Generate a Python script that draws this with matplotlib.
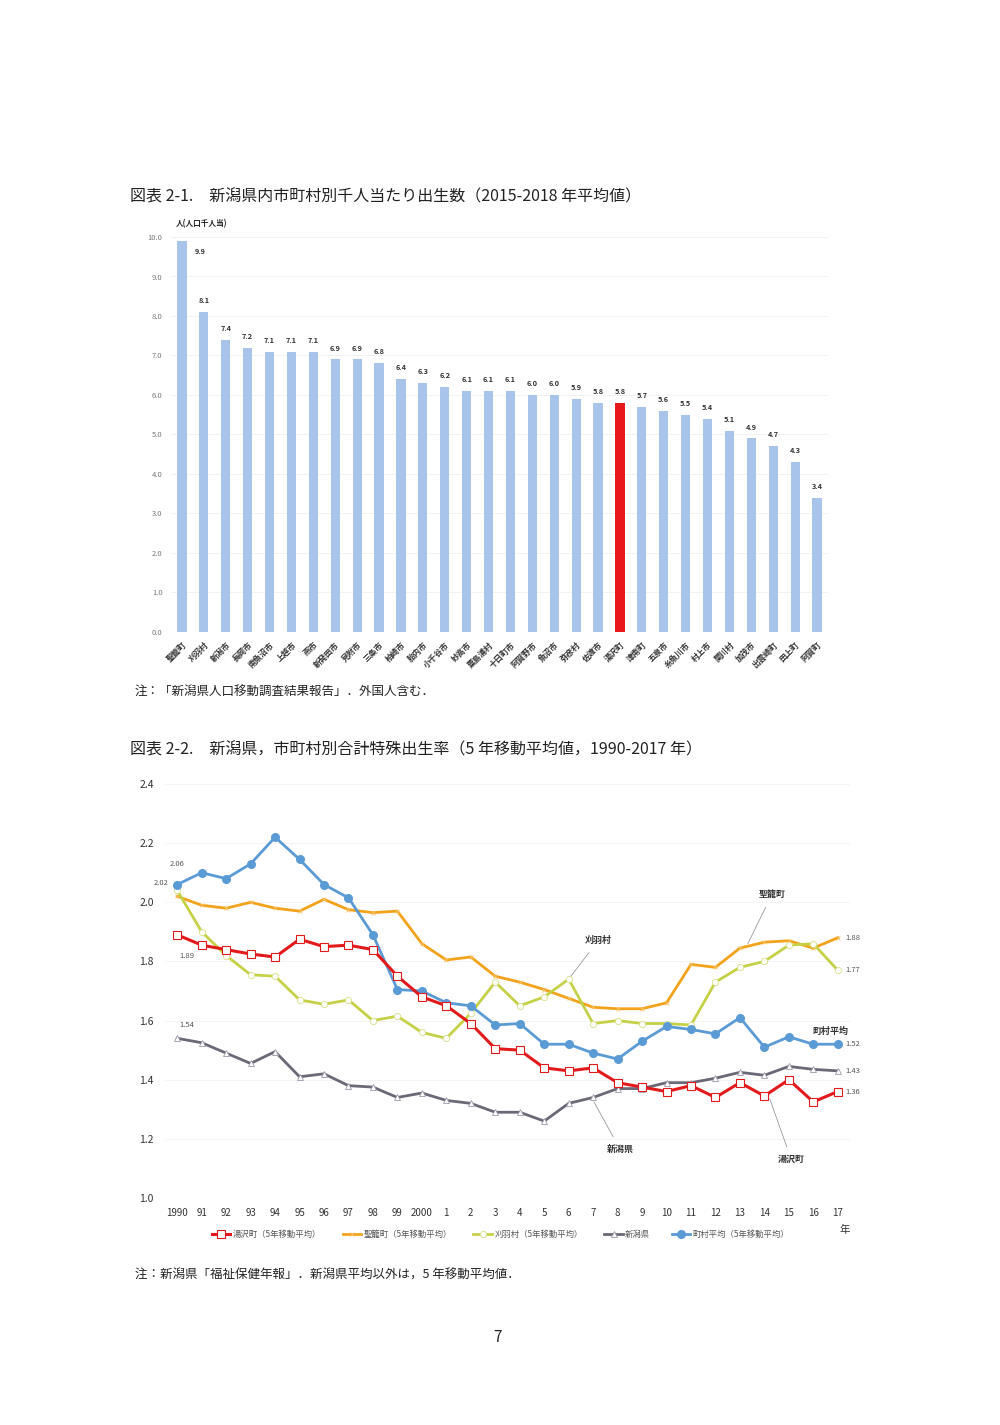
import matplotlib
matplotlib.use("Agg")
import matplotlib.pyplot as plt
import numpy as np

plt.rcParams['font.family'] = ['Noto Sans CJK JP', 'DejaVu Sans']

# ---------------- Data: chart 2-1 ----------------
municipalities = ["聖籠町", "刈羽村", "新潟市", "長岡市", "南魚沼市", "上越市", "燕市", "新発田市",
                  "見附市", "三条市", "柏崎市", "胎内市", "小千谷市", "妙高市", "粟島浦村", "十日町市",
                  "阿賀野市", "魚沼市", "弥彦村", "佐渡市", "湯沢町", "津南町", "五泉市", "糸魚川市",
                  "村上市", "関川村", "加茂市", "出雲崎町", "田上町", "阿賀町"]
births_per_1000 = [9.9, 8.1, 7.4, 7.2, 7.1, 7.1, 7.1, 6.9, 6.9, 6.8, 6.4, 6.3, 6.2, 6.1, 6.1,
                   6.1, 6.0, 6.0, 5.9, 5.8, 5.8, 5.7, 5.6, 5.5, 5.4, 5.1, 4.9, 4.7, 4.3, 3.4]
highlight = "湯沢町"

# ---------------- Data: chart 2-2 ----------------
year_labels = ["1990", "91", "92", "93", "94", "95", "96", "97", "98", "99", "2000",
               "1", "2", "3", "4", "5", "6", "7", "8", "9", "10", "11", "12", "13", "14", "15", "16", "17"]
yuzawa = [1.89, 1.855, 1.84, 1.825, 1.815, 1.875, 1.85, 1.855, 1.84, 1.75,
          1.68, 1.65, 1.59, 1.505, 1.50, 1.44, 1.43, 1.44, 1.39, 1.375,
          1.36, 1.38, 1.34, 1.39, 1.345, 1.40, 1.325, 1.36]
seiro = [2.02, 1.99, 1.98, 2.00, 1.98, 1.97, 2.01, 1.975, 1.965, 1.97,
         1.86, 1.805, 1.815, 1.75, 1.73, 1.705, 1.675, 1.645, 1.64, 1.64,
         1.66, 1.79, 1.78, 1.845, 1.865, 1.87, 1.845, 1.88]
kariwa = [2.04, 1.90, 1.82, 1.755, 1.75, 1.67, 1.655, 1.67, 1.60, 1.615,
          1.56, 1.54, 1.625, 1.73, 1.65, 1.68, 1.74, 1.59, 1.60, 1.59,
          1.59, 1.585, 1.73, 1.78, 1.80, 1.855, 1.86, 1.77]
niigata = [1.54, 1.525, 1.49, 1.455, 1.495, 1.41, 1.42, 1.38, 1.375, 1.34,
           1.355, 1.33, 1.32, 1.29, 1.29, 1.26, 1.32, 1.34, 1.37, 1.37,
           1.39, 1.39, 1.405, 1.425, 1.415, 1.445, 1.435, 1.43]
town_avg = [2.06, 2.10, 2.08, 2.13, 2.22, 2.145, 2.06, 2.015, 1.89, 1.705,
            1.70, 1.66, 1.65, 1.585, 1.59, 1.52, 1.52, 1.49, 1.47, 1.53,
            1.58, 1.57, 1.555, 1.61, 1.51, 1.545, 1.52, 1.52]
series_names = ["湯沢町（5年移動平均）", "聖籠町（5年移動平均）", "刈羽村（5年移動平均）",
                "新潟県", "町村平均（5年移動平均）"]

fig = plt.figure(figsize=(10, 14.25), dpi=100)
W, H = 1000, 1425

def fx(px):
    return px / W

def fy(py):
    return 1 - py / H

# ---------------- Chart 2-1 ----------------
fig.text(fx(130), fy(197), "図表 2-1.　新潟県内市町村別千人当たり出生数（2015-2018 年平均値）",
         fontsize=11.5, va="center", ha="left", color="#222222")

ax1 = fig.add_axes([0.171, fy(632), 0.657, (632 - 237) / H])
x = np.arange(len(municipalities))
colors = ["#e8191a" if m == highlight else "#a9c4eb" for m in municipalities]
ax1.bar(x, births_per_1000, width=0.42, color=colors, zorder=2)
ax1.set_xlim(-0.5, len(municipalities) - 0.5)
ax1.set_ylim(0, 10)
ax1.set_yticks(np.arange(0, 10.1, 1.0))
ax1.set_yticklabels([f"{v:.1f}" for v in np.arange(0, 10.1, 1.0)], fontsize=5.5, color="#777777")
ax1.tick_params(axis="y", length=0, pad=6)
ax1.set_xticks(x)
ax1.set_xticklabels(municipalities, rotation=45, ha="right", rotation_mode="anchor",
                    fontsize=5.8, fontweight="bold", color="#333333")
ax1.tick_params(axis="x", length=0, pad=6)
ax1.grid(axis="y", color="#f0f0f0", linewidth=0.6, zorder=0)
for s in ax1.spines.values():
    s.set_visible(False)
for i, v in enumerate(births_per_1000):
    if i == 0:
        ax1.text(i + 0.85, v - 0.35, f"{v:.1f}", ha="center", va="bottom",
                 fontsize=5.3, fontweight="bold", color="#333333")
    else:
        ax1.text(i, v + 0.2, f"{v:.1f}", ha="center", va="bottom",
                 fontsize=5.3, fontweight="bold", color="#333333")
fig.text(fx(176), fy(224), "人(人口千人当)", fontsize=5.5, fontweight="bold",
         va="center", ha="left", color="#222222")

fig.text(fx(135), fy(692), "注：「新潟県人口移動調査結果報告」．外国人含む．",
         fontsize=9, va="center", ha="left", color="#222222")

# ---------------- Chart 2-2 ----------------
fig.text(fx(130), fy(750), "図表 2-2.　新潟県，市町村別合計特殊出生率（5 年移動平均値，1990-2017 年）",
         fontsize=11.5, va="center", ha="left", color="#222222")

ax2 = fig.add_axes([0.165, fy(1198), 0.685, (1198 - 784) / H])
xi = np.arange(len(year_labels))
ax2.plot(xi, yuzawa, color="#e31a1c", lw=2.2, marker="s", ms=6, mfc="white",
         mec="#e31a1c", mew=0.8, label=series_names[0], zorder=5)
ax2.plot(xi, seiro, color="#f2a31b", lw=2.0, marker="x", ms=2.5, mec="#f7c46a",
         mew=0.6, label=series_names[1], zorder=3)
ax2.plot(xi, kariwa, color="#c5d147", lw=2.0, marker="o", ms=4.5, mfc="white",
         mec="#d8df86", mew=0.6, label=series_names[2], zorder=4)
ax2.plot(xi, niigata, color="#6b6878", lw=2.0, marker="^", ms=5, mfc="white",
         mec="#9c9aa8", mew=0.6, label=series_names[3], zorder=4)
ax2.plot(xi, town_avg, color="#5b9bd5", lw=2.0, marker="o", ms=5.5, mfc="#5b9bd5",
         mec="#5b9bd5", label=series_names[4], zorder=4)
ax2.set_xlim(-0.5, len(year_labels) - 0.5)
ax2.set_ylim(1.0, 2.4)
yt = np.arange(1.0, 2.41, 0.2)
ax2.set_yticks(yt)
ax2.set_yticklabels([f"{v:.1f}" for v in yt], fontsize=7.5, color="#333333")
ax2.tick_params(axis="y", length=0, pad=8)
ax2.set_xticks(xi)
ax2.set_xticklabels(year_labels, fontsize=7, color="#333333")
ax2.tick_params(axis="x", length=0, pad=7)
ax2.grid(axis="y", color="#f2f2f2", linewidth=0.6, zorder=0)
for s in ax2.spines.values():
    s.set_visible(False)

lab_kw = dict(fontsize=5.5, color="#555555", va="center")
ax2.text(0, town_avg[0] + 0.07, f"{town_avg[0]:.2f}", ha="center", **lab_kw)
ax2.text(-0.35, seiro[0] + 0.045, f"{seiro[0]:.2f}", ha="right", **lab_kw)
ax2.text(0.1, yuzawa[0] - 0.07, f"{yuzawa[0]:.2f}", ha="left", **lab_kw)
ax2.text(0.1, niigata[0] + 0.045, f"{niigata[0]:.2f}", ha="left", **lab_kw)
last = len(year_labels) - 1
for vals in [seiro, kariwa, town_avg, niigata, yuzawa]:
    ax2.text(last + 0.3, vals[-1], f"{vals[-1]:.2f}", ha="left", **lab_kw)

ann_kw = dict(fontsize=6.5, fontweight="bold", color="#333333", ha="center", va="center",
              arrowprops=dict(arrowstyle="-", color="#888888", lw=0.5, shrinkA=4, shrinkB=1))
ax2.annotate("聖籠町", xy=(23.3, 1.856), xytext=(24.3, 2.025), **ann_kw)
ax2.annotate("刈羽村", xy=(16, 1.74), xytext=(17.2, 1.87), **ann_kw)
ax2.annotate("新潟県", xy=(17, 1.33), xytext=(18.1, 1.165), **ann_kw)
ax2.annotate("湯沢町", xy=(24.2, 1.34), xytext=(25.1, 1.13), **ann_kw)
ax2.text(26.7, 1.565, "町村平均", fontsize=6.5, fontweight="bold", color="#333333",
         ha="center", va="center")
fig.text(fx(845), fy(1230), "年", fontsize=7.5, color="#333333", ha="center", va="center")

leg = ax2.legend(loc="upper center", bbox_to_anchor=(0.49, -0.06), ncol=5, frameon=False,
                 fontsize=6, handlelength=2.2, columnspacing=2.6, handletextpad=0.3)
for t in leg.get_texts():
    t.set_color("#555555")

fig.text(fx(135), fy(1275), "注：新潟県「福祉保健年報」．新潟県平均以外は，5 年移動平均値．",
         fontsize=9, va="center", ha="left", color="#222222")
fig.text(fx(497), fy(1337), "7", fontsize=11, va="center", ha="center", color="#222222")

fig.savefig("out.png", dpi=100, facecolor="white")
